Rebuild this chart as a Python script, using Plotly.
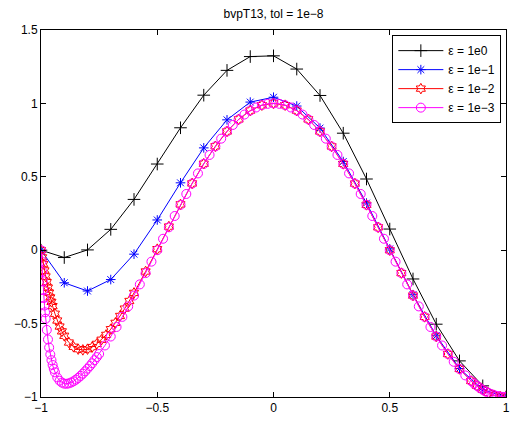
import plotly.graph_objects as go

# eps = 1e0
x1 = [-1.0, -0.9, -0.8, -0.7, -0.6, -0.5, -0.4, -0.3, -0.2, -0.1, 0.0,
      0.1, 0.2, 0.3, 0.4, 0.5, 0.6, 0.7, 0.8, 0.9, 1.0]
y1 = [0.0, -0.050, 0.002, 0.142, 0.346, 0.587, 0.834, 1.056, 1.225, 1.319, 1.324,
      1.234, 1.054, 0.797, 0.485, 0.144, -0.196, -0.504, -0.754, -0.924, -1.0]

# eps = 1e-1
x2 = [-1.0, -0.9, -0.8, -0.7, -0.6, -0.5, -0.4, -0.3, -0.2, -0.1, 0.0,
      0.1, 0.2, 0.3, 0.4, 0.5, 0.6, 0.7, 0.8, 0.9, 1.0]
y2 = [0.0, -0.222, -0.278, -0.200, -0.027, 0.206, 0.459, 0.697, 0.888, 1.009, 1.042,
      0.982, 0.832, 0.604, 0.321, 0.009, -0.303, -0.583, -0.806, -0.950, -1.0]

# eps = 1e-2
x3 = [-1.0, -0.995, -0.99, -0.985, -0.98, -0.975, -0.97, -0.965, -0.96, -0.955,
      -0.95, -0.94, -0.93, -0.92, -0.91, -0.9, -0.88, -0.86, -0.84, -0.82, -0.8,
      -0.78, -0.76, -0.74, -0.72, -0.7, -0.68, -0.66, -0.64, -0.62, -0.6,
      -0.55, -0.5, -0.45, -0.4, -0.35, -0.3, -0.25, -0.2, -0.15, -0.1, -0.05, 0.0,
      0.05, 0.1, 0.15, 0.2, 0.25, 0.3, 0.35, 0.4, 0.45, 0.5, 0.55, 0.6, 0.65, 0.7,
      0.75, 0.8, 0.85, 0.875, 0.9, 0.925, 0.95, 0.975, 1.0]
y3 = [0.0, -0.049, -0.095, -0.138, -0.179, -0.218, -0.255, -0.289, -0.322, -0.352,
      -0.381, -0.433, -0.479, -0.520, -0.553, -0.583, -0.629, -0.658, -0.674, -0.679, -0.674,
      -0.660, -0.638, -0.610, -0.577, -0.538, -0.495, -0.448, -0.398, -0.346, -0.291,
      -0.145, 0.007, 0.161, 0.312, 0.455, 0.589, 0.708, 0.809, 0.891, 0.951, 0.988, 1.0,
      0.988, 0.951, 0.891, 0.809, 0.707, 0.588, 0.454, 0.309, 0.156, 0.0, -0.156, -0.309, -0.454, -0.588,
      -0.707, -0.809, -0.891, -0.924, -0.951, -0.972, -0.988, -0.997, -1.0]

# eps = 1e-3
x4 = [-1.0, -0.9975, -0.995, -0.9925, -0.99, -0.9875, -0.985, -0.9825, -0.98, -0.975,
      -0.97, -0.965, -0.96, -0.955, -0.95, -0.945, -0.94, -0.93, -0.92, -0.91, -0.9,
      -0.89, -0.88, -0.87, -0.86, -0.85, -0.84, -0.83, -0.82, -0.81, -0.8,
      -0.79, -0.78, -0.77, -0.76, -0.75, -0.725, -0.7, -0.675, -0.65, -0.625, -0.6,
      -0.575, -0.55, -0.525, -0.5, -0.475, -0.45, -0.425, -0.4, -0.375, -0.35, -0.325,
      -0.3, -0.275, -0.25, -0.225, -0.2, -0.175, -0.15, -0.125, -0.1, -0.075, -0.05,
      -0.025, 0.0, 0.025, 0.05, 0.075, 0.1, 0.125, 0.15, 0.175, 0.2, 0.225, 0.25,
      0.275, 0.3, 0.325, 0.35, 0.375, 0.4, 0.425, 0.45, 0.475, 0.5, 0.525, 0.55,
      0.575, 0.6, 0.625, 0.65, 0.675, 0.7, 0.725, 0.75, 0.775, 0.8, 0.825, 0.85,
      0.8625, 0.875, 0.8875, 0.9, 0.9125, 0.925, 0.9375, 0.95, 0.9625, 0.975, 0.9875, 1.0]
y4 = [0.0, -0.076, -0.146, -0.211, -0.271, -0.326, -0.377, -0.423, -0.467, -0.543,
      -0.608, -0.663, -0.710, -0.749, -0.782, -0.809, -0.832, -0.867, -0.889, -0.902, -0.909,
      -0.910, -0.907, -0.901, -0.893, -0.882, -0.870, -0.856, -0.841, -0.825, -0.807,
      -0.789, -0.770, -0.749, -0.728, -0.707, -0.649, -0.588, -0.523, -0.454, -0.383, -0.309,
      -0.233, -0.156, -0.078, 0.0, 0.078, 0.156, 0.233, 0.309, 0.383, 0.454, 0.523,
      0.588, 0.649, 0.707, 0.760, 0.809, 0.853, 0.891, 0.924, 0.951, 0.972, 0.988,
      0.997, 1.0, 0.997, 0.988, 0.972, 0.951, 0.924, 0.891, 0.853, 0.809, 0.760, 0.707,
      0.649, 0.588, 0.523, 0.454, 0.383, 0.309, 0.233, 0.156, 0.078, 0.0, -0.078, -0.156,
      -0.233, -0.309, -0.383, -0.454, -0.523, -0.588, -0.649, -0.707, -0.760, -0.809, -0.853, -0.891,
      -0.908, -0.924, -0.938, -0.951, -0.963, -0.972, -0.981, -0.988, -0.993, -0.997, -0.999, -1.0]

names = ["ε = 1e0", "ε = 1e−1", "ε = 1e−2", "ε = 1e−3"]
x_ticks = [-1, -0.5, 0, 0.5, 1]
x_ticklabels = ["−1", "−0.5", "0", "0.5", "1"]
y_ticks = [-1, -0.5, 0, 0.5, 1, 1.5]
y_ticklabels = ["−1", "−0.5", "0", "0.5", "1", "1.5"]

series = [
    (x1, y1, names[0], "#000000", "cross-thin-open", 9),
    (x2, y2, names[1], "#0000ff", "asterisk-open", 8),
    (x3, y3, names[2], "#ff0000", "hexagram-open", 8),
    (x4, y4, names[3], "#ff00ff", "circle-open", 9),
]

fig = go.Figure()
for xs, ys, nm, col, sym, sz in series:
    fig.add_trace(go.Scatter(
        x=xs, y=ys, name=nm, mode="lines+markers",
        line=dict(color=col, width=1),
        marker=dict(symbol=sym, size=sz, color=col, line=dict(color=col, width=1)),
    ))

axis_common = dict(
    showline=True, linecolor="black", linewidth=1, mirror="ticks",
    ticks="inside", ticklen=5, tickcolor="black", tickwidth=1,
    showgrid=False, zeroline=False, ticklabeloverflow="allow", automargin=False,
    tickfont=dict(family="Liberation Sans, Arial, sans-serif", size=12, color="black"),
)

fig.update_layout(
    width=510, height=421,
    margin=dict(l=41, r=4, t=30, b=24, autoexpand=False),
    paper_bgcolor="white", plot_bgcolor="white",
    title=dict(text="bvpT13, tol = 1e−8", x=(41 + 506) / 2 / 510, xanchor="center",
               y=1 - 14 / 421, yanchor="middle", yref="container",
               font=dict(family="Liberation Sans, Arial, sans-serif", size=12, color="black")),
    xaxis=dict(range=[-1, 1], tickvals=x_ticks, ticktext=x_ticklabels, **axis_common),
    yaxis=dict(range=[-1, 1.5], tickvals=y_ticks, ticktext=y_ticklabels, **axis_common),
    legend=dict(x=0.99, y=0.986, xanchor="right", yanchor="top",
                bgcolor="white", bordercolor="black", borderwidth=1,
                font=dict(family="Liberation Sans, Arial, sans-serif", size=12, color="black"),
                itemwidth=45, tracegroupgap=0),
    showlegend=True,
)

fig.write_html("out.html")
